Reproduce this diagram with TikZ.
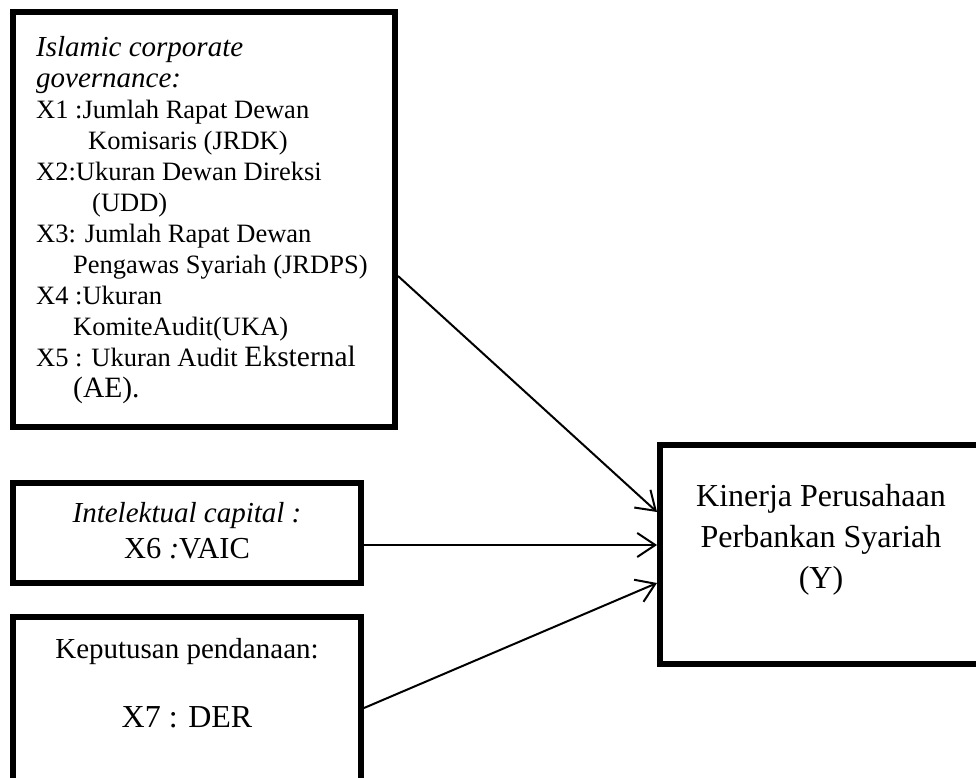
\documentclass[tikz,border=0pt]{standalone}
\usepackage{fontspec}
\setmainfont{Liberation Serif}
\usetikzlibrary{arrows.meta,calc}

\begin{document}
\begin{tikzpicture}[x=1pt,y=-1pt]
    % styles
    \tikzset{
      box/.style       = {draw=black, line width=6pt, inner sep=0pt, outer sep=3pt},
      boxtext/.style   = {inner sep=0pt, font=\fontsize{26.5}{31}\selectfont},
      flowarrow/.style = {-{Straight Barb[length=18pt,width=24pt]}, line width=2pt, draw=black}
    }
    \useasboundingbox (0,0) rectangle (976,778);
    \clip (0,0) rectangle (976,778);

    % Boxes:
    \node[box, minimum width=382pt, minimum height=415pt] (cg)  at (204,219.5) {};
    \node[box, minimum width=348pt, minimum height=100pt] (ic)  at (187,533) {};
    \node[box, minimum width=348pt, minimum height=183pt] (kp)  at (187,708.5) {};
    \node[box, minimum width=340pt, minimum height=219pt] (kpy) at (830,554.5) {};

    % Texts (base = last line):
    \node[boxtext, anchor=base west, align=left] (cgtext) at (36,397)
      {{\fontsize{29}{31}\selectfont\itshape Islamic corporate}\\
       {\fontsize{29}{31}\selectfont\itshape governance:}\\
       X1 :Jumlah Rapat Dewan\\
       \hspace*{52pt}Komisaris (JRDK)\\
       X2:Ukuran Dewan Direksi\\
       \hspace*{56pt}(UDD)\\
       X3: Jumlah Rapat Dewan\\
       \hspace*{37pt}Pengawas Syariah (JRDPS)\\
       X4 :Ukuran\\
       \hspace*{37pt}KomiteAudit(UKA)\\
       X5 : Ukuran Audit {\fontsize{29.5}{33}\selectfont Eksternal}\\
       \hspace*{37pt}{\fontsize{29.5}{33}\selectfont (AE).}};
    \node[boxtext, anchor=base, align=center, font=\fontsize{29}{36}\selectfont] (ictext) at (187,558)
      {\textit{Intelektual capital :}\\
       {\fontsize{30.5}{36}\selectfont X6 \textit{:}VAIC}};
    \node[boxtext, anchor=base, align=center, font=\fontsize{29}{36}\selectfont] (kptext) at (187,727)
      {Keputusan pendanaan:\\[33pt]
       {\fontsize{32}{36}\selectfont X7 : DER}};
    \node[boxtext, anchor=base, align=center, font=\fontsize{32}{41}\selectfont] (kpytext) at (821,588)
      {Kinerja Perusahaan\\
       Perbankan Syariah\\
       (Y)};

    % Arrows:
    \draw[flowarrow] ($(cg.east)+(0,56.5)$) -- ($(kpy.west)+(0,-42.5)$);
    \draw[flowarrow] ($(ic.east)+(0,12)$) -- ($(kpy.west)+(0,-9.5)$);
    \draw[flowarrow] ($(kp.east)+(0,-0.5)$) -- ($(kpy.west)+(0,28.5)$);
\end{tikzpicture}
\end{document}
